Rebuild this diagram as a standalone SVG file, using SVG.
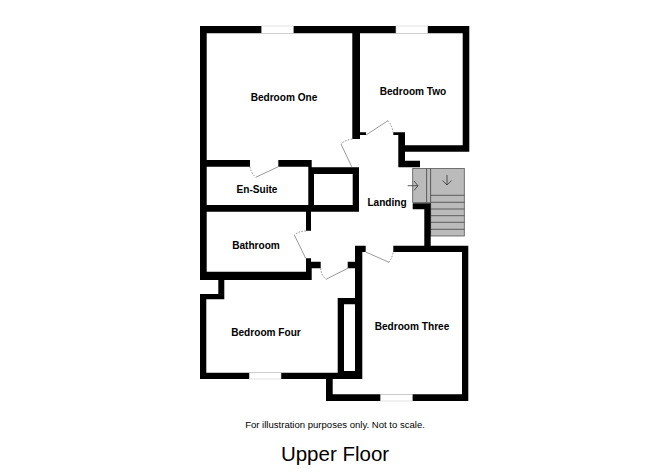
<svg xmlns="http://www.w3.org/2000/svg" width="668" height="472" viewBox="0 0 668 472">
<style>
.w{fill:#000}
.win{fill:#fff;stroke:#ccc;stroke-width:.6}
.st{fill:#bbb;stroke:#555;stroke-width:.8}
.tr{stroke:#444;stroke-width:.8;fill:none}
.ar{stroke:#333;stroke-width:.8;fill:none}
.ds{stroke:#999;stroke-width:1;fill:none}
.da{stroke:#888;stroke-width:1;fill:none;stroke-dasharray:1.5 1.5}
text{font-family:"Liberation Sans",Arial,sans-serif;fill:#000;text-anchor:middle}
.r{font-size:10.1px;font-weight:bold}
</style>
<rect width="668" height="472" fill="#fff"/>
<g id="stairs">
<rect class="st" x="412.7" y="168.5" width="14" height="34"/>
<rect class="st" x="426.7" y="168.5" width="4" height="34"/>
<rect class="st" x="430.7" y="168.5" width="33.6" height="67.5"/>
<path class="tr" d="M430.7 195.3H464.3M430.7 202.3H464.3M430.7 209H464.3M430.7 215.7H464.3M430.7 222.3H464.3M430.7 229.3H464.3"/>
<path class="ar" d="M447 175V185M442.5 180.5L447 185L451.5 180.5M407.7 185.7H418M414 181L418 185.7L414 190.5"/>
</g>
<g id="walls">
<path class="w" d="M200 26H469.3V151.7H405V160.7H420V167.3H398.3V135H393.3V132.3H405V145.3H462.7V33.3H360V132.3H366V135H360V139H352.3V33.3H206.7V160H250V166.7H206.7V205H308.3V166.7H278.3V160H311.7V167.3H359V211.7H311V230.7H306V211.7H206.7V271.7H306V258.3H311V261.7H320.7V268.3H311.7V280H224.3V299.3H206.3V372.7H337.7V298H355V268.3H347.7V261.7H355V245.7H365.7V252H362.3V394.3H380.7V401H326V379H200V294H218.3V280H200ZM314 174V205H352.7V174ZM344 304.3V371H355V304.3ZM332.7 379V394.3H362.3V379Z" fill-rule="evenodd"/>
<path class="w" d="M393.3 245.7H424.3V209.3H412.7V203.3H430.7V245.7H468.3V401H380.7V394.3H462V252H393.3Z"/>
</g>
<g id="windows">
<rect class="win" x="261.7" y="26" width="31.6" height="7.3"/>
<rect class="win" x="396" y="26" width="31.7" height="7.3"/>
<rect class="win" x="249.3" y="372.7" width="31.7" height="6.3"/>
<rect class="win" x="380.7" y="394.3" width="31.6" height="6.7"/>
</g>
<g id="doors">
<path class="ds" d="M366 135L388 120.7M341 144L351.7 166.7M255.7 177.3L278.3 166.7M294.3 235L305.7 258.3M326 279.3L348.3 268M365.7 252L389 262.3"/>
<path class="da" d="M388 120.7Q392 125 393 132.3M352.3 139Q345 140 341 144M250 166.7Q251 173 255.7 177.3M306 231Q299 231 294.3 235M320.7 268.3Q321 275 326 279.3M389 262.3Q392 258 393.3 252"/>
</g>
<g id="labels">
<text class="r" x="284" y="100.500">Bedroom One</text>
<text class="r" x="413" y="95">Bedroom Two</text>
<text class="r" x="257" y="192.500">En-Suite</text>
<text class="r" x="387" y="206">Landing</text>
<text class="r" x="256" y="248.500">Bathroom</text>
<text class="r" x="266" y="335.500">Bedroom Four</text>
<text class="r" x="412" y="329.500">Bedroom Three</text>
<text x="335" y="427.500" font-size="9.550">For illustration purposes only. Not to scale.</text>
<text x="335" y="461" font-size="20.500">Upper Floor</text>
</g>
</svg>
